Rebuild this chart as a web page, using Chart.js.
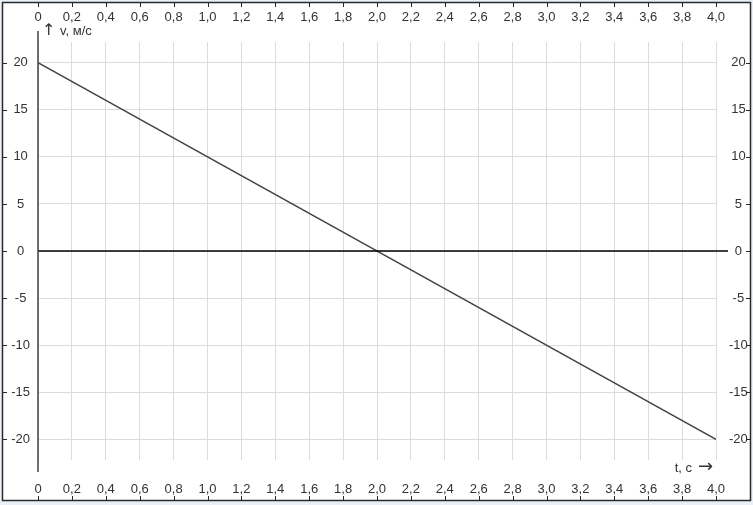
<!DOCTYPE html>
<html>
<head>
<meta charset="utf-8">
<script src="https://cdn.jsdelivr.net/npm/chart.js@4"></script>
<style>
  html, body { margin: 0; padding: 0; background: #e9f0f8; }
  canvas { display: block; }
</style>
</head>
<body>
<canvas id="grafica" width="753" height="505"></canvas>
<script>
// motion data: v(t)
const times = [0, 4.0];
const speeds = [20, -20];

const xTicks = [0, 0.2, 0.4, 0.6, 0.8, 1.0, 1.2, 1.4, 1.6, 1.8, 2.0, 2.2, 2.4, 2.6, 2.8, 3.0, 3.2, 3.4, 3.6, 3.8, 4.0];
const xTickLabels = ['0', '0,2', '0,4', '0,6', '0,8', '1,0', '1,2', '1,4', '1,6', '1,8', '2,0', '2,2', '2,4', '2,6', '2,8', '3,0', '3,2', '3,4', '3,6', '3,8', '4,0'];
const yTicks = [-20, -15, -10, -5, 0, 5, 10, 15, 20];
const yTickLabels = ['-20', '-15', '-10', '-5', '0', '5', '10', '15', '20'];

const textColor = '#333';
const gridColor = '#dcdcdc';
const tickFont = { family: 'Liberation Sans', size: 13 };

const setX = s => { s.ticks = xTicks.map(v => ({ value: v })); };
const setY = s => { s.ticks = yTicks.map(v => ({ value: v })); };

// frame, axis lines, arrows
const marco = {
  id: 'marco',
  beforeDraw(chart) {
    const c = chart.ctx;
    c.save();
    c.fillStyle = '#e9f0f8';
    c.fillRect(0, 0, chart.width, chart.height);
    c.fillStyle = '#fff';
    c.fillRect(2, 2, 749, 499);
    c.restore();
  },
  afterDatasetsDraw(chart) {
    const c = chart.ctx;
    const a = chart.chartArea;
    const sx = chart.scales.x, sy = chart.scales.y;
    const x0 = sx.getPixelForValue(0);
    const y0 = sy.getPixelForValue(0);
    c.save();
    // zero line
    c.strokeStyle = '#000';
    c.lineWidth = 1.5;
    c.beginPath();
    c.moveTo(x0, y0);
    c.lineTo(a.right + 12, y0);
    c.stroke();
    // vertical axis
    c.strokeStyle = '#404040';
    c.beginPath();
    c.moveTo(x0, a.top - 11);
    c.lineTo(x0, a.bottom + 12);
    c.stroke();
    // frame
    c.strokeStyle = '#2a2a2a';
    c.lineWidth = 1.5;
    c.strokeRect(2.5, 2.5, 748, 498);
    // small ticks on frame
    c.lineWidth = 1;
    c.beginPath();
    xTicks.forEach(v => {
      const px = Math.round(sx.getPixelForValue(v)) + 0.5;
      c.moveTo(px, 3); c.lineTo(px, 7);
      c.moveTo(px, 496); c.lineTo(px, 500);
    });
    yTicks.forEach(v => {
      const py = Math.round(sy.getPixelForValue(v)) + 0.5;
      c.moveTo(3, py); c.lineTo(7, py);
      c.moveTo(746, py); c.lineTo(750, py);
    });
    c.stroke();
    // axis titles
    c.fillStyle = textColor;
    c.textBaseline = 'middle';
    c.textAlign = 'left';
    c.font = '16px "DejaVu Sans"';
    c.fillText('\u2191', x0 + 4, a.top - 11);
    c.font = '13px "Liberation Sans"';
    c.fillText('v, м/с', x0 + 22, a.top - 11);
    c.textAlign = 'right';
    c.font = '18px "DejaVu Sans"';
    c.fillText('\u2192', a.right - 3, a.bottom + 7);
    c.font = '13px "Liberation Sans"';
    c.fillText('t, с', a.right - 24, a.bottom + 8);
    c.restore();
  }
};

const grafica = document.getElementById('grafica').getContext('2d');
const verGrafica = new Chart(grafica, {
  type: 'line',
  data: {
    labels: times,
    datasets: [{
      data: times.map((t, i) => ({ x: t, y: speeds[i] })),
      borderColor: '#454545',
      borderWidth: 1.5,
      pointRadius: 0,
      tension: 0,
      fill: false
    }]
  },
  options: {
    responsive: false,
    animation: false,
    devicePixelRatio: 1,
    layout: { padding: 0 },
    plugins: {
      legend: { display: false },
      tooltip: { enabled: false }
    },
    scales: {
      x: {
        type: 'linear', position: 'bottom', min: 0, max: 4,
        afterBuildTicks: setX,
        afterFit: s => { s.height = 45; },
        grid: { color: gridColor, lineWidth: 1, drawTicks: false },
        border: { display: false },
        ticks: { padding: 22, color: textColor, font: tickFont, maxRotation: 0, autoSkip: false,
          callback: (v, i) => xTickLabels[i] }
      },
      x2: {
        type: 'linear', position: 'top', min: 0, max: 4,
        afterBuildTicks: setX,
        afterFit: s => { s.height = 42; },
        grid: { display: false, drawTicks: false },
        border: { display: false },
        ticks: { padding: 17, color: textColor, font: tickFont, maxRotation: 0, autoSkip: false,
          callback: (v, i) => xTickLabels[i] }
      },
      y: {
        type: 'linear', position: 'left', min: -22.2, max: 22.2,
        afterBuildTicks: setY,
        afterFit: s => { s.width = 38; },
        grid: { color: gridColor, lineWidth: 1, drawTicks: false },
        border: { display: false },
        ticks: { padding: 8, crossAlign: 'center', color: textColor, font: tickFont,
          callback: (v, i) => yTickLabels[i] }
      },
      y2: {
        type: 'linear', position: 'right', min: -22.2, max: 22.2,
        afterBuildTicks: setY,
        afterFit: s => { s.width = 37; },
        grid: { display: false, drawTicks: false },
        border: { display: false },
        ticks: { padding: 13, crossAlign: 'center', color: textColor, font: tickFont,
          callback: (v, i) => yTickLabels[i] }
      }
    }
  },
  plugins: [marco]
});
</script>
</body>
</html>
